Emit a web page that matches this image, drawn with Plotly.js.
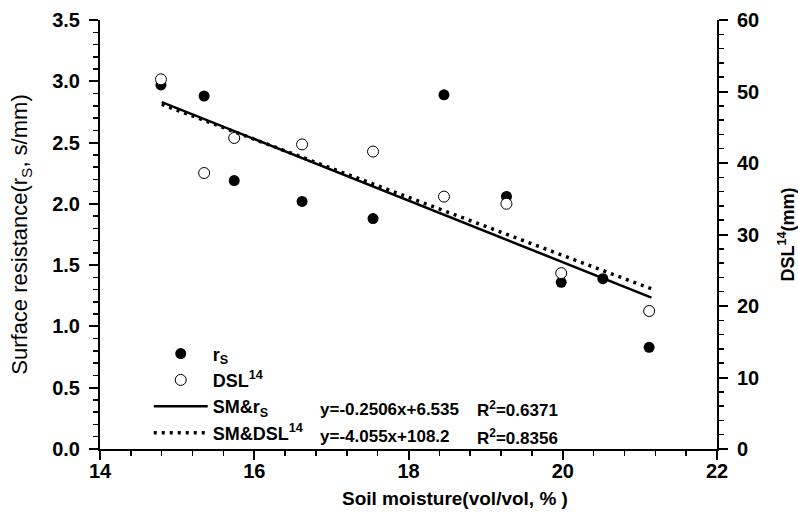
<!DOCTYPE html>
<html>
<head>
<meta charset="utf-8">
<script src="https://cdn.plot.ly/plotly-3.0.1.min.js"></script>
<style>html,body{margin:0;padding:0;background:#fff;}#chart{width:798px;height:531px;}</style>
</head>
<body>
<div id="chart"></div>
<script>
// Soil moisture (vol/vol, %)
const soilMoistureRs = [14.79, 15.35, 15.74, 16.62, 17.54, 18.46, 19.27, 19.98, 20.52, 21.12];
const surfaceResistance = [2.97, 2.88, 2.19, 2.02, 1.88, 2.89, 2.06, 1.36, 1.39, 0.83];
const soilMoistureDsl = [14.79, 15.35, 15.74, 16.62, 17.54, 18.46, 19.27, 19.98, 21.12];
const dsl14 = [51.7, 38.6, 43.5, 42.6, 41.6, 35.3, 34.3, 24.6, 19.3];
// regression lines
const fitX = [14.8, 21.15];
const fitRs = [2.83, 1.235];
const fitDsl = [48.2, 22.4];
const eqRs = 'y=-0.2506x+6.535';
const r2Rs = 'R<sup>2</sup>=0.6371';
const eqDsl = 'y=-4.055x+108.2';
const r2Dsl = 'R<sup>2</sup>=0.8356';

const F = 'Liberation Sans, Arial, sans-serif';
const bold = (s) => '<b>' + s + '</b>';

const traces = [
  {x: soilMoistureRs, y: surfaceResistance, type: 'scatter', mode: 'markers', name: bold('r<sub>S</sub>'),
   marker: {color: 'black', size: 11, symbol: 'circle'}, yaxis: 'y'},
  {x: soilMoistureDsl, y: dsl14, type: 'scatter', mode: 'markers', name: bold('DSL<sup>14</sup>'),
   marker: {color: 'white', size: 11, symbol: 'circle', line: {color: 'black', width: 1}}, yaxis: 'y2'},
  {x: fitX, y: fitRs, type: 'scatter', mode: 'lines', name: bold('SM&r<sub>S</sub>'),
   line: {color: 'black', width: 2.5}, yaxis: 'y'},
  {x: fitX, y: fitDsl, type: 'scatter', mode: 'lines', name: bold('SM&DSL<sup>14</sup>'),
   line: {color: 'black', width: 3.5, dash: '3px,5px'}, yaxis: 'y2'}
];

const axisCommon = {showgrid: false, zeroline: false, showline: true, linecolor: 'black', linewidth: 2,
  ticks: 'outside', tickcolor: 'black', tickwidth: 2, ticklen: 9, ticklabelstandoff: 5,
  tickfont: {family: F, size: 20, color: 'black', weight: 'bold'}};

const layout = {
  width: 798, height: 531,
  margin: {l: 100, r: 81, t: 20, b: 82},
  paper_bgcolor: 'white', plot_bgcolor: 'white',
  font: {family: F, color: 'black'},
  showlegend: true,
  legend: {x: 0.079, y: 0.265, xanchor: 'left', yanchor: 'top', bgcolor: 'rgba(0,0,0,0)',
    itemwidth: 54, font: {family: F, size: 18, color: 'black'}, tracegroupgap: 0},
  xaxis: Object.assign({}, axisCommon, {range: [14, 22], tick0: 14, dtick: 2, ticklabelstandoff: -6,
    minor: {dtick: 0.4, ticks: 'outside', ticklen: 5, tickcolor: 'black', tickwidth: 1.5}}),
  yaxis: Object.assign({}, axisCommon, {range: [0, 3.5], tick0: 0, dtick: 0.5, tickformat: '.1f',
    minor: {dtick: 0.1, ticks: 'outside', ticklen: 5, tickcolor: 'black', tickwidth: 1.5},
    title: {text: 'Surface resistance(r<sub>S</sub>, s/mm)', font: {family: F, size: 22, color: 'black'}, standoff: 18}}),
  yaxis2: Object.assign({}, axisCommon, {range: [0, 60], tick0: 0, dtick: 10, overlaying: 'y', side: 'right',
    minor: {dtick: 2, ticks: 'outside', ticklen: 5, tickcolor: 'black', tickwidth: 1.5},
    title: {text: bold('DSL<sup>14</sup>(mm)'), font: {family: F, size: 18, color: 'black'}, standoff: 23}}),
  annotations: [
    {xref: 'paper', yref: 'paper', x: 0.575, y: -0.115, xanchor: 'center', yanchor: 'middle', showarrow: false,
     text: bold('Soil moisture(vol/vol, % )'), font: {family: F, size: 19, color: 'black'}},
    {xref: 'paper', yref: 'paper', x: 0.353, y: 0.093, xanchor: 'left', yanchor: 'middle', showarrow: false,
     text: bold(eqRs), font: {family: F, size: 17, color: 'black'}},
    {xref: 'paper', yref: 'paper', x: 0.608, y: 0.093, xanchor: 'left', yanchor: 'middle', showarrow: false,
     text: bold(r2Rs), font: {family: F, size: 17, color: 'black'}},
    {xref: 'paper', yref: 'paper', x: 0.353, y: 0.028, xanchor: 'left', yanchor: 'middle', showarrow: false,
     text: bold(eqDsl), font: {family: F, size: 17, color: 'black'}},
    {xref: 'paper', yref: 'paper', x: 0.608, y: 0.028, xanchor: 'left', yanchor: 'middle', showarrow: false,
     text: bold(r2Dsl), font: {family: F, size: 17, color: 'black'}}
  ]
};

Plotly.newPlot('chart', traces, layout, {staticPlot: true, displayModeBar: false});
</script>
</body>
</html>
